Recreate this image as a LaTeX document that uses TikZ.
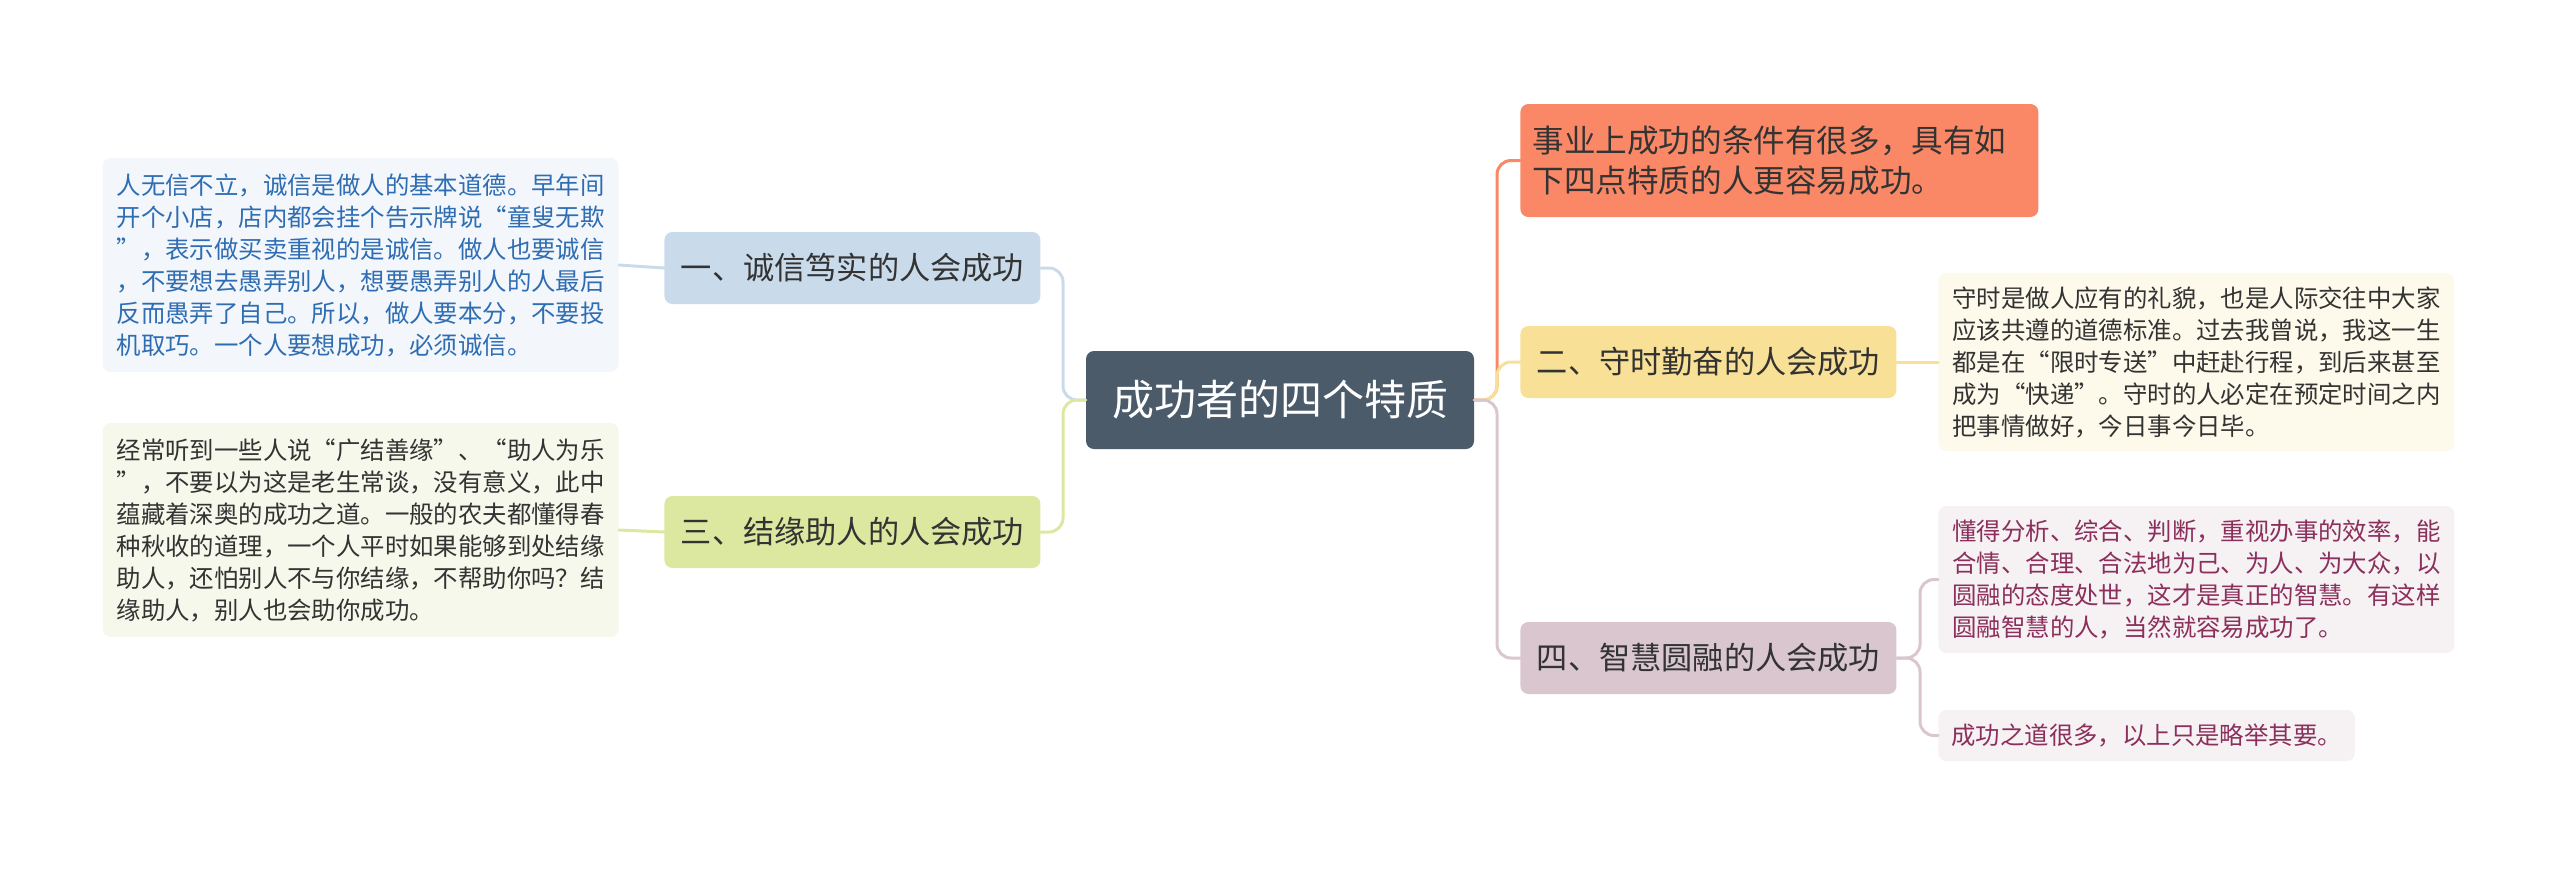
\documentclass[tikz,border=0pt]{standalone}
\usepackage{fontspec}
\setmainfont{Noto Sans CJK SC}
\definecolor{rootfill}{HTML}{4B5B6A}
\definecolor{txtdark}{HTML}{333333}
\definecolor{bluefill}{HTML}{C9DBEB}
\definecolor{blueleaf}{HTML}{F3F7FB}
\definecolor{bluetxt}{HTML}{2F6DB3}
\definecolor{greenfill}{HTML}{DCE8A0}
\definecolor{greenleaf}{HTML}{F5F8EA}
\definecolor{orangefill}{HTML}{FA8866}
\definecolor{yellowfill}{HTML}{F8E096}
\definecolor{yellowleaf}{HTML}{FDF9EB}
\definecolor{mauvefill}{HTML}{D9C6CF}
\definecolor{mauveleaf}{HTML}{F6F1F3}
\definecolor{mauvetxt}{HTML}{8B2F5C}
\begin{document}
\begin{tikzpicture}[x=0.5pt,y=-0.5pt,line cap=round,line join=round,
  box/.style={rounded corners=4pt,inner sep=0pt,align=left},
  rootbox/.style={box,fill=rootfill,text=white,minimum width=194pt,minimum height=49pt,
    font=\fontsize{21pt}{25pt}\selectfont},
  branchbox/.style={box,text=txtdark,minimum width=188pt,minimum height=36pt,
    font=\fontsize{15.6pt}{19pt}\selectfont},
  leafbox/.style={box,text=txtdark,inner xsep=6.5pt,minimum width=258pt,
    font=\fontsize{12.2pt}{16pt}\selectfont},
  link/.style={line width=1.5pt,rounded corners=7pt}]
  \useasboundingbox (0,0) rectangle (2560,869);

  % centre
  \node[rootbox] (root) at (1280,400) {成功者的四个特质};

  % left side
  \node[branchbox,fill=bluefill,anchor=west] (trust) at (664,268) {一、诚信笃实的人会成功};
  \node[branchbox,fill=greenfill,anchor=west] (help) at (664,532) {三、结缘助人的人会成功};
  \node[leafbox,fill=blueleaf,text=bluetxt,minimum height=107pt,anchor=east] (trustnote) at (619,265)
    {人无信不立，诚信是做人的基本道德。早年间\\开个小店，店内都会挂个告示牌说“童叟无欺\\”，表示做买卖重视的是诚信。做人也要诚信\\，不要想去愚弄别人，想要愚弄别人的人最后\\反而愚弄了自己。所以，做人要本分，不要投\\机取巧。一个人要想成功，必须诚信。};
  \node[leafbox,fill=greenleaf,minimum height=107pt,anchor=east] (helpnote) at (619,530)
    {经常听到一些人说“广结善缘”、“助人为乐\\”，不要以为这是老生常谈，没有意义，此中\\蕴藏着深奥的成功之道。一般的农夫都懂得春\\种秋收的道理，一个人平时如果能够到处结缘\\助人，还怕别人不与你结缘，不帮助你吗？结\\缘助人，别人也会助你成功。};

  % right side
  \node[box,fill=orangefill,text=txtdark,inner xsep=6pt,text width=247pt,minimum height=56.5pt,
    font=\fontsize{15.8pt}{19.6pt}\selectfont,anchor=west] (intro) at (1520,160.5)
    {事业上成功的条件有很多，具有如\\下四点特质的人更容易成功。};
  \node[branchbox,fill=yellowfill,anchor=west] (time) at (1520,362) {二、守时勤奋的人会成功};
  \node[branchbox,fill=mauvefill,anchor=west] (wise) at (1520,658) {四、智慧圆融的人会成功};
  \node[leafbox,fill=yellowleaf,minimum height=89pt,anchor=west] (timenote) at (1938,362)
    {守时是做人应有的礼貌，也是人际交往中大家\\应该共遵的道德标准。过去我曾说，我这一生\\都是在“限时专送”中赶赴行程，到后来甚至\\成为“快递”。守时的人必定在预定时间之内\\把事情做好，今日事今日毕。};
  \node[leafbox,fill=mauveleaf,text=mauvetxt,minimum height=73.5pt,anchor=west] (wisenote) at (1938,579.5)
    {懂得分析、综合、判断，重视办事的效率，能\\合情、合理、合法地为己、为人、为大众，以\\圆融的态度处世，这才是真正的智慧。有这样\\圆融智慧的人，当然就容易成功了。};
  \node[leafbox,fill=mauveleaf,text=mauvetxt,minimum width=0pt,minimum height=25.5pt,anchor=west] (endnote) at (1938,735.5)
    {成功之道很多，以上只是略举其要。};

  % connectors
  \coordinate (lfork) at (1063,400);
  \coordinate (rfork) at (1497,400);
  \coordinate (wfork) at (1920,658);
  \draw[link,bluefill] (root.west) -- (lfork) |- (trust.east);
  \draw[link,greenfill] (root.west) -- (lfork) |- (help.east);
  \draw[link,bluefill] (trust.west) -- (trustnote.east);
  \draw[link,greenfill] (help.west) -- (helpnote.east);
  \draw[link,orangefill] (root.east) -- (rfork) |- (intro.west);
  \draw[link,yellowfill] (root.east) -- (rfork) |- (time.west);
  \draw[link,mauvefill] (root.east) -- (rfork) |- (wise.west);
  \draw[link,yellowfill] (time.east) -- (timenote.west);
  \draw[link,mauvefill] (wise.east) -- (wfork) |- (wisenote.west);
  \draw[link,mauvefill] (wise.east) -- (wfork) |- (endnote.west);
\end{tikzpicture}
\end{document}
